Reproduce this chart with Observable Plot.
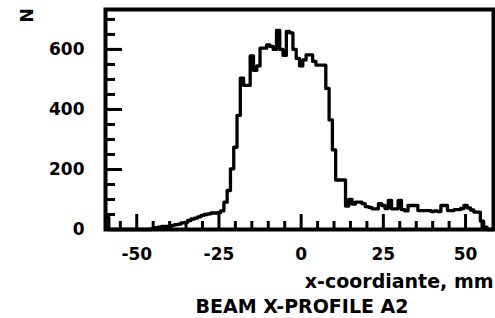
<!DOCTYPE html>
<html>
<head>
<meta charset="utf-8">
<script src="https://cdn.jsdelivr.net/npm/d3@7"></script>
<script src="https://cdn.jsdelivr.net/npm/@observablehq/plot@0.6"></script>
<style>
  html, body { margin: 0; padding: 0; background: #fff; }
  #chart svg { display: block; }
</style>
</head>
<body>
<div id="chart"></div>
<script>
// Bin centres (1 mm bins) and counts
const binCenters = [
  -59,-58,-57,-56,-55,-54,-53,-52,-51,-50,-49,-48,-47,-46,-45,-44,-43,-42,-41,-40,
  -39,-38,-37,-36,-35,-34,-33,-32,-31,-30,-29,-28,-27,-26,-25,-24,-23,-22,-21,-20,
  -19,-18,-17,-16,-15,-14,-13,-12,-11,-10,-9,-8,-7,-6,-5,-4,-3,-2,-1,0,
  1,2,3,4,5,6,7,8,9,10,11,12,13,14,15,16,17,18,19,20,
  21,22,23,24,25,26,27,28,29,30,31,32,33,34,35,36,37,38,39,40,
  41,42,43,44,45,46,47,48,49,50,51,52,53,54,55,56,57,58
];
const counts = [
  40,0,0,0,0,0,0,0,0,0,0,0,0,0,3,6,8,10,10,10,
  14,16,18,22,24,30,35,38,42,47,50,52,55,55,56,62,91,130,202,274,
  380,504,480,480,578,530,545,604,604,615,610,600,663,600,580,660,655,600,570,545,
  565,582,582,560,548,548,548,470,365,265,165,165,165,78,100,85,91,91,86,76,
  74,69,69,86,80,70,97,69,69,97,66,62,80,80,80,63,63,63,63,60,
  62,60,80,80,63,63,66,66,70,80,72,65,58,58,28,8,0,0
];
const binWidth = 1;

const xMajorTicks = [-50, -25, 0, 25, 50];
const xMinorTicks = [-55,-45,-40,-35,-30,-20,-15,-10,-5,5,10,15,20,30,35,40,45,55];
const yMajorTicks = [0, 200, 400, 600];
const yMinorTicks = [50,100,150,250,300,350,450,500,550,650,700];

const xLabel = "x-coordiante, mm";
const yLabel = "N";
const title = "BEAM X-PROFILE A2";

// step outline: left edge of each bin, plus the closing right edge
const steps = binCenters.map((c, i) => ({x: c - binWidth / 2, y: counts[i]}));
steps.push({x: binCenters[binCenters.length - 1] + binWidth / 2, y: counts[counts.length - 1]});

const W = 495, H = 318;
const mL = 105, mR = 2, mT = 9, mB = 89;
const plotW = W - mL - mR, plotH = H - mT - mB;
const plain = d => String(d); // hyphen-minus, as in the reference

const chart = Plot.plot({
  width: W, height: H,
  marginLeft: mL, marginRight: mR, marginTop: mT, marginBottom: mB,
  style: {fontFamily: "DejaVu Sans", fontWeight: "bold"},
  x: {domain: [-59.5, 58.5]},
  y: {domain: [0, 733]},
  marks: [
    Plot.axisX(xMajorTicks, {tickSize: 0, tickPadding: 18, fontSize: 17, tickFormat: plain, label: null}),
    Plot.axisY(yMajorTicks, {tickSize: 0, tickPadding: 21, fontSize: 17, tickFormat: plain, label: null}),
    Plot.ruleX(xMajorTicks, {x: d => d, insetTop: plotH - 15, stroke: "#000", strokeWidth: 3}),
    Plot.ruleX(xMinorTicks, {x: d => d, insetTop: plotH - 8, stroke: "#000", strokeWidth: 3}),
    Plot.ruleY(yMajorTicks, {y: d => d, insetRight: plotW - 17, stroke: "#000", strokeWidth: 3}),
    Plot.ruleY(yMinorTicks, {y: d => d, insetRight: plotW - 10, stroke: "#000", strokeWidth: 3}),
    Plot.line(steps, {x: "x", y: "y", curve: "step-after", stroke: "#000", strokeWidth: 3.3}),
    Plot.frame({stroke: "#000", strokeWidth: 4}),
    Plot.text([yLabel], {text: d => d, frameAnchor: "top-left", rotate: -90, dx: -84.5, dy: 13, fontSize: 17}),
    Plot.text([xLabel], {text: d => d, frameAnchor: "bottom-right", textAnchor: "end", lineAnchor: "bottom", dx: 0, dy: 58, fontSize: 19}),
    Plot.text([title], {text: d => d, frameAnchor: "bottom", lineAnchor: "bottom", dx: 2.5, dy: 83, fontSize: 19})
  ]
});
document.getElementById("chart").appendChild(chart);
</script>
</body>
</html>
